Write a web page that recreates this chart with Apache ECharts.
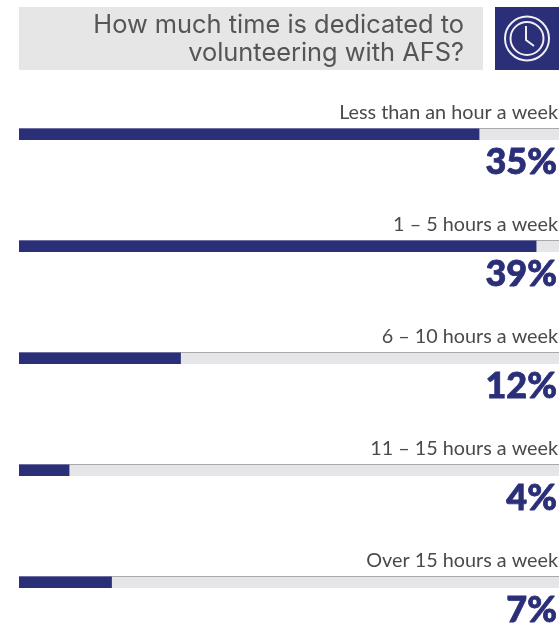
<!DOCTYPE html>
<html lang="en">
<head>
<meta charset="UTF-8">
<title>AFS volunteering time</title>
<script src="https://cdn.jsdelivr.net/npm/echarts@6/dist/echarts.min.js"></script>
<style>
    html, body { margin: 0; padding: 0; background: #fff; }
    #main { width: 559px; height: 629px; }
</style>
</head>
<body>
<div id="main"></div>
<script>
var categories = ['Less than an hour a week', '1 – 5 hours a week', '6 – 10 hours a week', '11 – 15 hours a week', 'Over 15 hours a week'];
var percentLabels = ['35%', '39%', '12%', '4%', '7%'];
// bar lengths as measured on the picture, in percent
var barValues = [34.7, 39, 12.2, 3.8, 7];
var trackValues = [40.7, 40.7, 40.7, 40.7, 40.7];
var titleText = 'How much time is dedicated to\nvolunteering with AFS?';

var navy = '#2a2f78';

function hardTop(top, rest) {
    return new echarts.graphic.LinearGradient(0, 0, 0, 1, [
        { offset: 0, color: top }, { offset: 0.1, color: top },
        { offset: 0.1, color: rest }, { offset: 1, color: rest }
    ]);
}

var myChart = echarts.init(document.getElementById('main'), null, { renderer: 'canvas' });
var option = {
    animation: false,
    title: {
        text: titleText,
        left: 459,
        top: 6,
        textAlign: 'right',
        textStyle: {
            fontFamily: 'Inter',
            fontWeight: 400,
            fontSize: 25.4,
            lineHeight: 28,
            color: '#555555'
        }
    },
    grid: { left: 19, right: 0, top: 78, height: 560, outerBoundsMode: 'none' },
    xAxis: { type: 'value', min: 0, max: 40.7, show: false },
    yAxis: {
        type: 'category',
        inverse: true,
        data: categories,
        axisLine: { show: false },
        axisTick: { show: false },
        axisLabel: { show: false }
    },
    graphic: [
        { type: 'rect', z: -1, shape: { x: 19, y: 7, width: 464, height: 63 }, style: { fill: '#e6e6e6' } },
        { type: 'rect', z: -1, shape: { x: 495, y: 7, width: 64, height: 63 }, style: { fill: navy } },
        { type: 'circle', shape: { cx: 527, cy: 38.5, r: 22 }, style: { fill: 'none', stroke: '#eeeef5', lineWidth: 2 } },
        { type: 'circle', shape: { cx: 527, cy: 38.5, r: 16.5 }, style: { fill: 'none', stroke: '#eeeef5', lineWidth: 2 } },
        { type: 'polyline', shape: { points: [[526, 26], [526, 40], [534, 46]] }, style: { fill: 'none', stroke: '#eeeef5', lineWidth: 2 } }
    ],
    series: [
        {
            // grey track, carries the category name
            type: 'bar',
            data: trackValues,
            barWidth: 12,
            barGap: '-100%',
            silent: true,
            itemStyle: { color: hardTop('#a9a9ad', '#e6e6e8') },
            label: {
                show: true,
                position: 'insideRight',
                distance: 0,
                offset: [-1, -21],
                formatter: function (p) { return categories[p.dataIndex]; },
                fontFamily: 'Lato',
                fontSize: 19.8,
                color: '#4a4a4a'
            }
        },
        {
            type: 'bar',
            data: barValues,
            barWidth: 12,
            barGap: '-100%',
            itemStyle: { color: hardTop('#6d70a0', navy) }
        },
        {
            // invisible, only holds the percent label
            type: 'bar',
            data: trackValues,
            barWidth: 12,
            barGap: '-100%',
            silent: true,
            itemStyle: { color: 'transparent' },
            label: {
                show: true,
                position: 'insideRight',
                distance: 0,
                offset: [-2, 28],
                formatter: function (p) { return percentLabels[p.dataIndex]; },
                fontFamily: 'Lato',
                fontWeight: 900,
                fontSize: 36,
                color: navy,
                textBorderColor: navy,
                textBorderWidth: 0.8
            }
        }
    ]
};
myChart.setOption(option, true);
</script>
</body>
</html>
